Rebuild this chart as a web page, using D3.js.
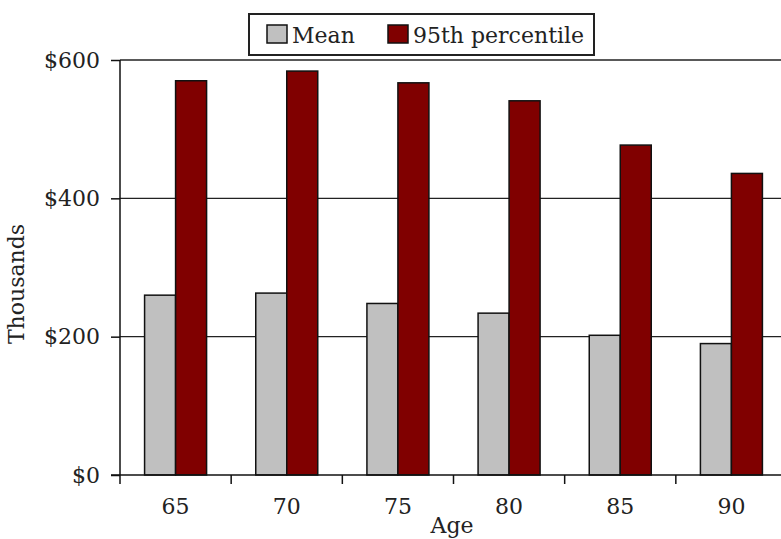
<!DOCTYPE html>
<html>
<head>
<meta charset="utf-8">
<script src="https://cdn.jsdelivr.net/npm/d3@7"></script>
<style>
  html, body { margin: 0; padding: 0; background: #fff; }
  svg { display: block; }
  text { font-family: "DejaVu Serif", "Liberation Serif", serif; fill: #222; }
</style>
</head>
<body>
<svg id="chart" width="781" height="539"></svg>
<script>
// Wealth by age: mean and 95th percentile, in thousands of dollars
const ages = ["65", "70", "75", "80", "85", "90"];
const meanValues = [260, 263, 248, 234, 202, 190];
const p95Values = [570, 584, 567, 541, 477, 436];
const seriesNames = ["Mean", "95th percentile"];
const seriesColors = ["#c0c0c0", "#800000"];
const yTicks = [0, 200, 400, 600];

const rows = ages.map((age, i) => ({ age, values: [meanValues[i], p95Values[i]] }));

const svg = d3.select("#chart");
const plotLeft = 120, plotRight = 787, plotTop = 60, plotBottom = 475;
const fontSize = 22;

const x = d3.scaleBand().domain(ages).range([plotLeft, plotRight]).padding(0);
const sub = d3.scaleBand().domain(d3.range(seriesNames.length))
  .range([x.bandwidth() / 2 - 31, x.bandwidth() / 2 + 31]).padding(0);
const y = d3.scaleLinear().domain([0, 600]).range([plotBottom, plotTop]);

// horizontal gridlines
svg.append("g")
  .selectAll("line")
  .data(yTicks.filter(d => d > 0))
  .join("line")
  .attr("x1", plotLeft).attr("x2", 781)
  .attr("y1", d => y(d)).attr("y2", d => y(d))
  .attr("stroke", "#222").attr("stroke-width", 1.4);

// bars
const groups = svg.append("g")
  .selectAll("g")
  .data(rows)
  .join("g")
  .attr("transform", d => `translate(${x(d.age)},0)`);

groups.selectAll("rect")
  .data(d => d.values.map((v, k) => ({ v, k })))
  .join("rect")
  .attr("x", d => sub(d.k))
  .attr("width", sub.bandwidth())
  .attr("y", d => y(d.v))
  .attr("height", d => y(0) - y(d.v))
  .attr("fill", d => seriesColors[d.k])
  .attr("stroke", "#111")
  .attr("stroke-width", 1.5);

// y axis
const yAxis = svg.append("g")
  .attr("transform", `translate(${plotLeft},0)`)
  .call(d3.axisLeft(y).tickValues(yTicks).tickFormat(d => "$" + d).tickSize(9).tickSizeOuter(0));
yAxis.select(".domain").remove();
yAxis.selectAll(".tick line").attr("stroke", "#111").attr("stroke-width", 1.5);
yAxis.selectAll(".tick text")
  .attr("x", -20)
  .attr("font-size", fontSize)
  .attr("font-family", "DejaVu Serif")
  .attr("fill", "#222");
svg.append("line")
  .attr("x1", plotLeft).attr("x2", plotLeft)
  .attr("y1", y(600)).attr("y2", plotBottom + 9)
  .attr("stroke", "#111").attr("stroke-width", 1.5);

// x axis baseline and category boundary ticks
svg.append("line")
  .attr("x1", plotLeft - 9).attr("x2", 781)
  .attr("y1", plotBottom).attr("y2", plotBottom)
  .attr("stroke", "#111").attr("stroke-width", 1.5);
svg.append("g")
  .selectAll("line")
  .data(ages.slice(1))
  .join("line")
  .attr("x1", d => x(d)).attr("x2", d => x(d))
  .attr("y1", plotBottom).attr("y2", plotBottom + 9)
  .attr("stroke", "#111").attr("stroke-width", 1.5);

svg.append("g")
  .selectAll("text")
  .data(ages)
  .join("text")
  .attr("x", d => x(d) + x.bandwidth() / 2)
  .attr("y", 514)
  .attr("text-anchor", "middle")
  .attr("font-size", fontSize)
  .text(d => d);

// axis titles
svg.append("text")
  .attr("x", 452).attr("y", 533)
  .attr("text-anchor", "middle")
  .attr("font-size", fontSize)
  .text("Age");
svg.append("text")
  .attr("transform", "translate(24,284) rotate(-90)")
  .attr("text-anchor", "middle")
  .attr("font-size", fontSize)
  .text("Thousands");

// legend
const legend = svg.append("g");
legend.append("rect")
  .attr("x", 249).attr("y", 14).attr("width", 345).attr("height", 41)
  .attr("fill", "#fff").attr("stroke", "#222").attr("stroke-width", 2);
const legendX = [267, 388];
seriesNames.forEach((name, k) => {
  legend.append("rect")
    .attr("x", legendX[k]).attr("y", 25).attr("width", 20).attr("height", 18)
    .attr("fill", seriesColors[k]).attr("stroke", "#111").attr("stroke-width", 1.5);
  legend.append("text")
    .attr("x", legendX[k] + 25).attr("y", 43)
    .attr("font-size", fontSize)
    .text(name);
});
</script>
</body>
</html>
